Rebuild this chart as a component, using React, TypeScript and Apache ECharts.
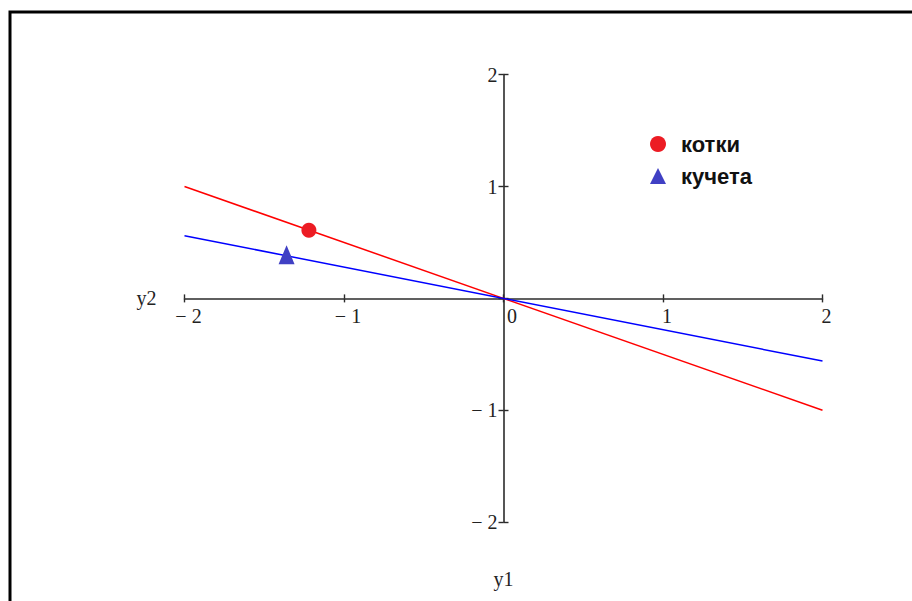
import React, { useEffect, useRef } from "react";
import * as echarts from "echarts";

// Axis range and integer ticks shared by both axes
const axisMin = -2;
const axisMax = 2;
const tickStep = 1;

// Two straight lines through the origin, given by their end points
const catsLine: number[][] = [
  [-2, 1],
  [2, -1],
];
const dogsLine: number[][] = [
  [-2, 0.56],
  [2, -0.56],
];

// Single marked point on each line
const catsPoint: number[][] = [[-1.22, 0.61]];
const dogsPoint: number[][] = [[-1.36, 0.39]];

const seriesNames = ["котки", "кучета"];
const axisNames = ["y1", "y2"];

const serif = "'Liberation Serif', 'Times New Roman', serif";
const sans = "'Liberation Sans', Arial, sans-serif";

const fmt = (v: number) => (v < 0 ? "\u2212 " + Math.abs(v) : String(v));

// Plot box inside the 912x601 canvas
const gridLeft = 184.5;
const gridRight = 89.5;
const gridTop = 74.6;
const gridBottom = 78.8;
const W = 912;
const H = 601;

export default function App() {
  const ref = useRef<HTMLDivElement>(null);

  useEffect(() => {
    if (!ref.current) return;
    const chart = echarts.init(ref.current, undefined, { renderer: "svg" });
    const axisColor = "#2b2b2b";

    // Axes cross at the origin: shift them from the grid edges into the middle
    const plotW = W - gridLeft - gridRight;
    const plotH = H - gridTop - gridBottom;
    const xOffset = -plotH * ((0 - axisMin) / (axisMax - axisMin));
    const yOffset = -plotW * ((0 - axisMin) / (axisMax - axisMin));

    const baseX = {
      type: "value" as const,
      min: axisMin,
      max: axisMax,
      interval: tickStep,
      position: "bottom" as const,
      offset: xOffset,
      splitLine: { show: false },
      axisLine: { onZero: false, lineStyle: { color: axisColor, width: 1.6 } },
    };
    const baseY = {
      type: "value" as const,
      min: axisMin,
      max: axisMax,
      interval: tickStep,
      position: "left" as const,
      offset: yOffset,
      splitLine: { show: false },
      axisLine: { onZero: false, lineStyle: { color: axisColor, width: 1.6 } },
    };

    chart.setOption({
      animation: false,
      backgroundColor: "#ffffff",
      grid: {
        left: gridLeft,
        right: gridRight,
        top: gridTop,
        bottom: gridBottom,
        containLabel: false,
        outerBoundsMode: "none",
      },
      graphic: [
        {
          type: "polyline",
          shape: { points: [[10, 605], [10, 12], [915, 12]] },
          style: { stroke: "#000", lineWidth: 3, fill: "none" },
          silent: true,
        },
      ],
      legend: {
        orient: "vertical",
        left: 645,
        top: 128,
        itemWidth: 16,
        itemHeight: 16,
        itemGap: 10,
        data: seriesNames,
        textStyle: {
          fontFamily: sans,
          fontWeight: "bold",
          fontSize: 22,
          color: "#111",
          padding: [0, 0, 0, 10],
        },
      },
      xAxis: [
        {
          ...baseX,
          name: axisNames[0],
          nameLocation: "middle",
          nameGap: 271,
          nameTextStyle: { fontFamily: serif, fontSize: 20, color: "#222", verticalAlign: "top" },
          axisTick: { show: true, length: 4, lineStyle: { color: axisColor, width: 1.4 } },
          axisLabel: {
            margin: 8,
            fontFamily: serif,
            fontSize: 20,
            color: "#222",
            formatter: (v: number) => (v === 0 ? "{z|0}" : "{n|" + fmt(v) + "}"),
            rich: {
              n: { fontFamily: serif, fontSize: 20, color: "#222", padding: [0, 0, 0, 8] },
              z: { fontFamily: serif, fontSize: 20, color: "#222", padding: [0, 0, 0, 17] },
            },
          },
        },
        {
          ...baseX,
          axisLine: { show: false, onZero: false },
          axisTick: { show: true, inside: true, length: 4, lineStyle: { color: axisColor, width: 1.4 } },
          axisLabel: { show: false },
        },
      ],
      yAxis: [
        {
          ...baseY,
          name: axisNames[1],
          nameLocation: "middle",
          nameRotate: 0,
          nameGap: 347,
          nameTextStyle: { fontFamily: serif, fontSize: 20, color: "#222" },
          axisTick: { show: true, length: 5, lineStyle: { color: axisColor, width: 1.4 } },
          axisLabel: {
            margin: 6,
            fontFamily: serif,
            fontSize: 20,
            color: "#222",
            padding: [3, 0, 0, 0],
            formatter: (v: number) => (v === 0 ? "" : fmt(v)),
          },
        },
        {
          ...baseY,
          axisLine: { show: false, onZero: false },
          axisTick: { show: true, inside: true, length: 5, lineStyle: { color: axisColor, width: 1.4 } },
          axisLabel: { show: false },
        },
      ],
      series: [
        {
          type: "line",
          data: catsLine,
          showSymbol: false,
          symbol: "none",
          lineStyle: { color: "#ff0000", width: 1.5 },
          silent: true,
        },
        {
          type: "line",
          data: dogsLine,
          showSymbol: false,
          symbol: "none",
          lineStyle: { color: "#0000ff", width: 1.5 },
          silent: true,
        },
        {
          name: seriesNames[0],
          type: "scatter",
          data: catsPoint,
          symbol: "circle",
          symbolSize: 15,
          itemStyle: { color: "#ec1c24", opacity: 1 },
          z: 5,
        },
        {
          name: seriesNames[1],
          type: "scatter",
          data: dogsPoint,
          symbol: "triangle",
          symbolSize: [16, 19],
          itemStyle: { color: "#4040c4", opacity: 1 },
          z: 5,
        },
      ],
    });

    return () => chart.dispose();
  }, []);

  return (
    <div
      ref={ref}
      style={{ position: "absolute", left: 0, top: 0, width: W, height: H }}
    />
  );
}
